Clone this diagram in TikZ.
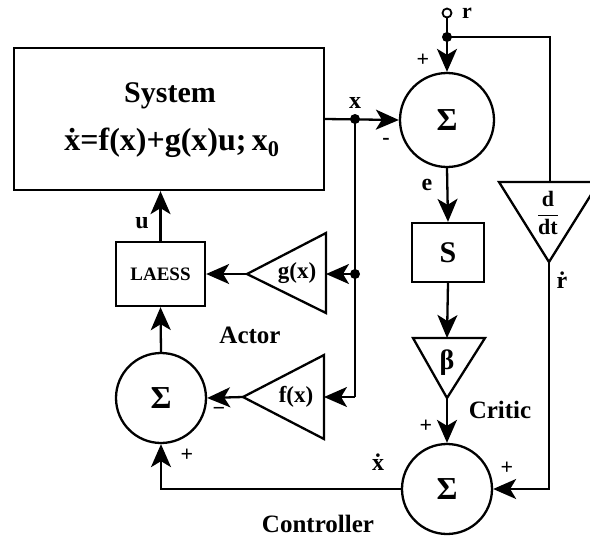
\documentclass[tikz,border=0pt]{standalone}
\usepackage{fontspec}
\setmainfont{Liberation Serif}
\usetikzlibrary{arrows.meta}
\begin{document}
\begin{tikzpicture}[x=1pt,y=-1pt,line width=2.3pt,
  >={Stealth[length=23pt,width=20pt,inset=6pt]},
  every node/.style={inner sep=0pt,font=\bfseries},
  sumnode/.style={circle,draw,font=\bfseries\fontsize{32}{32}\selectfont},
  boxnode/.style={draw},
  lbl/.style={font=\bfseries\fontsize{24}{24}\selectfont},
  sgn/.style={font=\bfseries\fontsize{22}{22}\selectfont},
  big/.style={font=\bfseries\fontsize{25}{25}\selectfont},
  gain/.style={font=\bfseries\fontsize{23}{23}\selectfont}]
\useasboundingbox (0,0) rectangle (590,542);

% blocks
\node[boxnode,minimum width=310pt,minimum height=142pt] (sys) at (169,119) {};
\node[anchor=base,font=\bfseries\fontsize{30}{30}\selectfont] (systxt) at (170,102) {System};
\node[anchor=base,font=\bfseries\fontsize{32}{32}\selectfont] (eq) at (172,150) {\.{x}=f(x)+g(x)u;\,x\textsubscript{0}};
\node[sumnode,minimum size=94pt] (sumT) at (447,120) {Σ};
\node[sumnode,minimum size=90pt] (sumL) at (161,398) {Σ};
\node[sumnode,minimum size=90pt] (sumB) at (447,489) {Σ};
\node[boxnode,minimum width=72pt,minimum height=59pt,font=\bfseries\fontsize{30}{30}\selectfont] (S) at (448,252.5) {S};
\node[boxnode,minimum width=89pt,minimum height=64pt,font=\bfseries\fontsize{19}{19}\selectfont] (laess) at (160.5,274) {LAESS};

% triangles
\coordinate (gapex) at (247,274);
\coordinate (gin) at (326,274);
\draw (gapex) -- (326,233) -- (326,313) -- cycle;
\node[gain] (gtxt) at (297,273) {g(x)};
\coordinate (fapex) at (243,397);
\coordinate (fin) at (324,397);
\draw (fapex) -- (324,355) -- (324,439) -- cycle;
\node[gain] (ftxt) at (296,397) {f(x)};
\coordinate (btop) at (447,338);
\coordinate (bapex) at (447,398);
\draw (413,338) -- (485,338) -- (bapex) -- cycle;
\node[font=\bfseries\fontsize{28}{28}\selectfont] (btxt) at (447,363) {β};
\coordinate (dtop) at (550,182);
\coordinate (dapex) at (549,262);
\draw (499,182) -- (599,182) -- (dapex) -- cycle;
\node[font=\bfseries\fontsize{22}{22}\selectfont] (dtxt) at (548,213) {$\displaystyle\frac{\textbf{d}}{\textbf{dt}}$};

% junctions and terminal
\coordinate (xj) at (355,119);
\coordinate (gj) at (355,274);
\coordinate (fc) at (355,397);
\coordinate (rt) at (447,13);
\coordinate (rj) at (447,37);
\coordinate (rc) at (550,37);
\coordinate (dc) at (549,489);
\coordinate (lc) at (161,489);
\draw[line width=1.8pt] (rt) circle (4.5pt);
\fill (xj) circle (5pt);
\fill (gj) circle (5pt);
\fill (rj) circle (5pt);

% connectors
\draw[->] (sys.east) -- (sumT.west);
\draw (xj) -- (fc);
\draw[->] (fc) -- (fin);
\draw[->] (gj) -- (gin);
\draw[->] (gapex) -- (laess.east);
\draw[->] (laess.north) -- (laess.north |- sys.south);
\draw[->] (sumL.north) -- (laess.south);
\draw[->] (fapex) -- (sumL.east);
\draw[->] (sumB.west) -- (lc) -- (sumL.south);
\draw ([yshift=-4.5pt]rt) -- (rj);
\draw[->] (rj) -- (sumT.north);
\draw (rj) -- (rc) -- (dtop);
\draw[->] (dapex) -- (dc) -- (sumB.east);
\draw[->] (sumT.south) -- (S.north);
\draw[->] (S.south) -- (btop);
\draw[->] (bapex) -- (sumB.north);

% labels
\node[lbl,anchor=base,font=\bfseries\fontsize{22}{22}\selectfont] (lr) at (467,18) {r};
\node[sgn] (p1) at (423,60) {+};
\node[lbl] (lx) at (355,103) {x};
\node[sgn] (m1) at (386,141) {-};
\node[lbl] (le) at (427,185) {e};
\node[lbl] (lu) at (142,223) {u};
\node[big] (actor) at (250,335) {Actor};
\node[sgn] (m2) at (219,411) {\textminus};
\node[sgn] (p2) at (187,455) {+};
\node[lbl] (lxd) at (378,462) {\.{x}};
\node[sgn] (p3) at (426,426) {+};
\node[sgn] (p4) at (507,468) {+};
\node[big] (critic) at (500,410) {Critic};
\node[big] (ctrl) at (318,524) {Controller};
\node[lbl] (lrd) at (562,280) {\.{r}};
\end{tikzpicture}
\end{document}
